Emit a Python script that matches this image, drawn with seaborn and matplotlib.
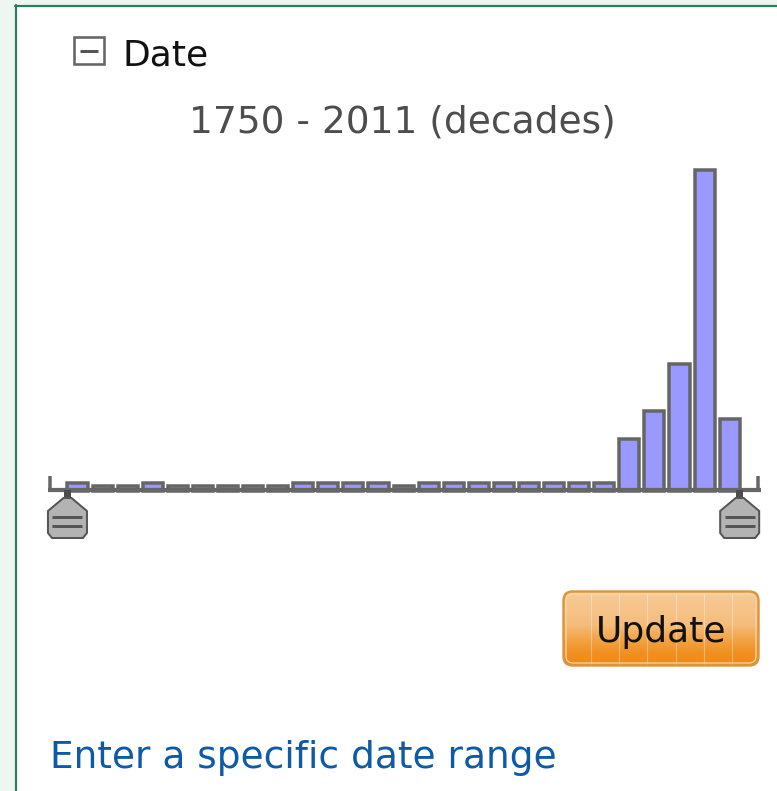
import numpy as np
import pandas as pd
import matplotlib
matplotlib.use("Agg")
import matplotlib.pyplot as plt
import seaborn as sns
from matplotlib.patches import Rectangle, Polygon, FancyBboxPatch
from matplotlib.lines import Line2D
from matplotlib.colors import LinearSegmentedColormap

# ---- data -------------------------------------------------------------
decades = [str(y) for y in range(1750, 2020, 10)]
counts = [1, 0, 0, 1, 0, 0, 0, 0, 0, 1, 1, 1, 1, 0,
          1, 1, 1, 1, 1, 1, 1, 1, 12, 19, 31, 80, 17]
header = "Date"
range_label = "1750 - 2011 (decades)"
button_label = "Update"
link_label = "Enter a specific date range"

# ---- figure -----------------------------------------------------------
W, H, DPI = 777, 791, 100
sns.set_theme(style="white")
plt.rcParams["font.family"] = ["DejaVu Sans"]

fig = plt.figure(figsize=(W / DPI, H / DPI), dpi=DPI)
fig.patch.set_facecolor("#eef6f1")


def fx(x):
    return x / W


def fy(y):
    return 1 - y / H


def pts(px):
    return px * 72 / DPI


# white panel with green frame (kept beneath the axes)
fig.patches.append(Rectangle((fx(16), 0), 1 - fx(16), fy(6), transform=fig.transFigure,
                             facecolor="white", edgecolor="none", zorder=-5))
frame = "#2e7b5e"
fig.lines.append(Line2D([fx(16), fx(16)], [fy(5), 0], transform=fig.transFigure,
                        color=frame, lw=pts(2.2), zorder=-4))
fig.lines.append(Line2D([fx(15), 1], [fy(6), fy(6)], transform=fig.transFigure,
                        color=frame, lw=pts(2.2), zorder=-4))

# header with collapse box
fig.patches.append(Rectangle((fx(74), fy(64)), fx(104) - fx(74), fy(37) - fy(64),
                             transform=fig.transFigure, facecolor="white",
                             edgecolor="#666666", lw=pts(2.6), zorder=3))
fig.lines.append(Line2D([fx(79.5), fx(97.5)], [fy(51), fy(51)], transform=fig.transFigure,
                        color="#555555", lw=pts(3), solid_capstyle="butt", zorder=4))
fig.text(fx(122), fy(65), header, fontsize=26, color="#111111", ha="left", va="baseline")
fig.text(fx(402.5), fy(133), range_label, fontsize=27, color="#4d4d4d",
         ha="center", va="baseline")

# ---- histogram --------------------------------------------------------
X0, X1 = -1.176, 27.25
Y_TOP = 85
PX_PER_UNIT = 3.96
base_px = 486.5
ax = fig.add_axes([fx(48), fy(base_px), (761 - 48) / W, (Y_TOP * PX_PER_UNIT) / H])
ax.set_facecolor("none")
df = pd.DataFrame({"decade": decades, "count": counts})
sns.barplot(data=df, x="decade", y="count", color="#9999ff", saturation=1,
            width=0.8, edgecolor="#666666", linewidth=pts(3.5), ax=ax)
# tuck each bar's lower edge under the axis line
drop = 4.5 / PX_PER_UNIT
for p in ax.patches:
    p.set_clip_on(False)
    p.set_y(p.get_y() - drop)
    p.set_height(p.get_height() + drop)
ax.set_xlim(X0, X1)
ax.set_ylim(0, Y_TOP)
ax.set_axis_off()

axis_y = -3.9 / PX_PER_UNIT
ax.plot([X0, X1], [axis_y, axis_y], color="#666666", lw=pts(4.2),
        solid_capstyle="butt", clip_on=False, zorder=5)
for xt in (-1.096, 27.13):
    ax.plot([xt, xt], [axis_y, 2.65], color="#666666", lw=pts(3.5),
            solid_capstyle="butt", clip_on=False, zorder=5)

# range slider handles at the outer edges of the first and last bar
for xd in (-0.4, len(decades) - 1 + 0.4):
    cx = ax.transData.transform((xd, 0))[0]
    fig.patches.append(Rectangle((fx(cx - 3.5), fy(500)), 7 / W, 10 / H,
                                 transform=fig.transFigure, facecolor="#4d4d4d",
                                 edgecolor="none", zorder=6))
    shape = [(cx - 4, 498), (cx + 4, 498), (cx + 19.5, 511), (cx + 19.5, 533),
             (cx + 15.5, 538), (cx - 15.5, 538), (cx - 19.5, 533), (cx - 19.5, 511)]
    fig.patches.append(Polygon([(fx(a), fy(b)) for a, b in shape], closed=True,
                               transform=fig.transFigure, facecolor="#b3b3b3",
                               edgecolor="#555555", lw=pts(2), zorder=7))
    for yy in (516.5, 525.5):
        fig.lines.append(Line2D([fx(cx - 15), fx(cx + 15)], [fy(yy), fy(yy)],
                                transform=fig.transFigure, color="#555555",
                                lw=pts(3), solid_capstyle="butt", zorder=8))

# ---- button -----------------------------------------------------------
bx0, by0, bw, bh = 562, 590, 198, 77
bax = fig.add_axes([fx(bx0), fy(by0 + bh), bw / W, bh / H])
bax.set_xlim(0, bw)
bax.set_ylim(bh, 0)
bax.set_axis_off()
cmap = LinearSegmentedColormap.from_list(
    "btn", [(0, "#f8cb97"), (0.45, "#f5bd7d"), (0.62, "#f3a64c"),
            (0.82, "#f0901f"), (1, "#ee8a1a")])
grad = np.linspace(0, 1, 200).reshape(-1, 1)
clip = FancyBboxPatch((1.5, 1.5), bw - 3, bh - 3, boxstyle="round,pad=0,rounding_size=9",
                      facecolor="none", edgecolor="none", transform=bax.transData)
bax.add_patch(clip)
im = bax.imshow(grad, cmap=cmap, extent=(0, bw, bh, 0), aspect="auto", zorder=1)
im.set_clip_path(clip)
for vx in (591, 619, 647, 676, 704, 732):
    ln, = bax.plot([vx - bx0, vx - bx0], [0, bh], color="white", alpha=0.35, lw=0.8, zorder=2)
    ln.set_clip_path(clip)
bax.add_patch(FancyBboxPatch((4, 4), bw - 8, bh - 8, boxstyle="round,pad=0,rounding_size=7",
                             facecolor="none", edgecolor="#fbd6a8", lw=pts(1.2), zorder=3))
bax.add_patch(FancyBboxPatch((1.5, 1.5), bw - 3, bh - 3, boxstyle="round,pad=0,rounding_size=9",
                             facecolor="none", edgecolor="#d9953f", lw=pts(2.4), zorder=3))
bax.text(661 - bx0, 642 - by0, button_label, fontsize=26, color="#111111",
         ha="center", va="baseline", zorder=4)

# ---- link -------------------------------------------------------------
fig.text(fx(50), fy(768), link_label, fontsize=27, color="#0d5aa7",
         ha="left", va="baseline")

fig.savefig("out.png", dpi=DPI)
